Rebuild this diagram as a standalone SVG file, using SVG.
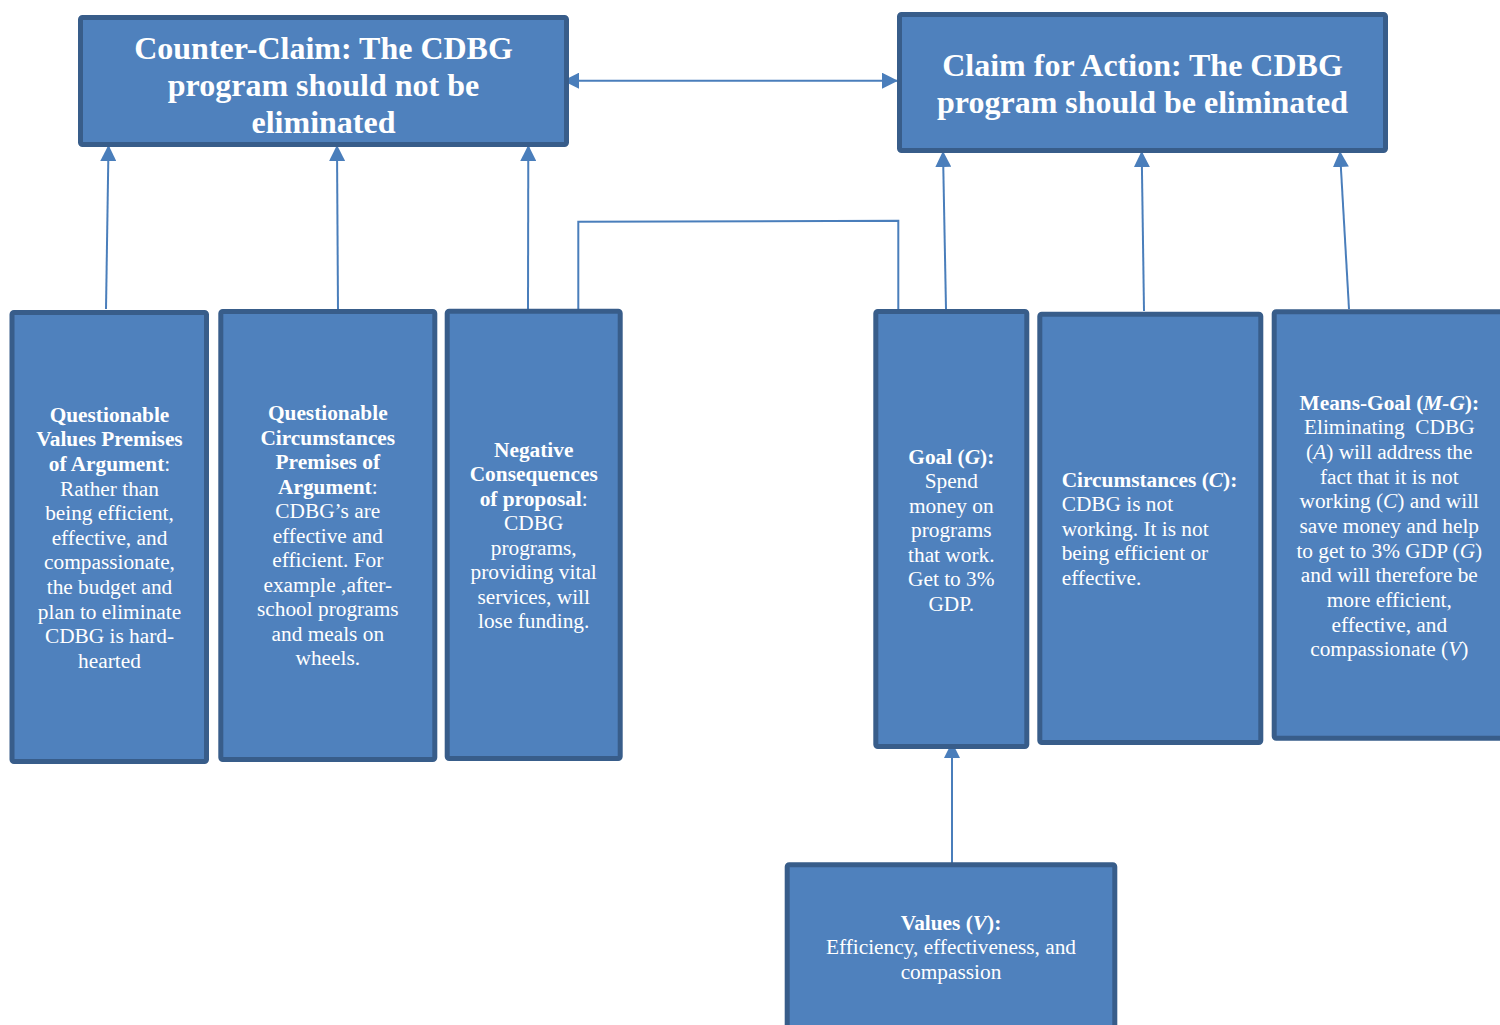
<svg xmlns="http://www.w3.org/2000/svg" width="1500" height="1025" viewBox="0 0 1500 1025">
  <defs>
    <style>
      .box { fill: #4F81BD; stroke: #385D8A; stroke-width: 5; }
      .conn { fill: none; stroke: #4A7EBB; stroke-width: 2; }
      .t { font-family: "Liberation Serif", "Times New Roman", serif; fill: #ffffff; font-size: 21.33px; }
      .title { font-size: 32px; font-weight: bold; }
      .b { font-weight: bold; }
      .i { font-style: italic; }
    </style>
    <marker id="arrow" viewBox="0 0 16 16" refX="15" refY="8" markerWidth="16" markerHeight="16" markerUnits="userSpaceOnUse" orient="auto-start-reverse">
      <path d="M0,0 L16,8 L0,16 z" fill="#4A7EBB"/>
    </marker>
  </defs>

  <rect width="1500" height="1025" fill="#ffffff"/>

  <!-- connectors -->
  <g id="connectors">
    <line class="conn" x1="106" y1="309" x2="108.5" y2="146" marker-end="url(#arrow)"/>
    <line class="conn" x1="338" y1="311" x2="337" y2="146" marker-end="url(#arrow)"/>
    <line class="conn" x1="528" y1="309" x2="528.3" y2="146" marker-end="url(#arrow)"/>
    <line class="conn" x1="946" y1="309" x2="943" y2="152" marker-end="url(#arrow)"/>
    <line class="conn" x1="1144" y1="311" x2="1141.7" y2="152" marker-end="url(#arrow)"/>
    <line class="conn" x1="1349" y1="309" x2="1340" y2="152" marker-end="url(#arrow)"/>
    <line class="conn" x1="564" y1="80.7" x2="897" y2="80.7" marker-start="url(#arrow)" marker-end="url(#arrow)"/>
    <polyline class="conn" points="578.3,309 578.3,221.8 898.3,220.8 898.3,309"/>
    <line class="conn" x1="952" y1="863" x2="952" y2="743" marker-end="url(#arrow)"/>
  </g>

  <!-- counter-claim -->
  <g id="counter-claim">
    <rect class="box" x="80.5" y="17.5" width="486" height="127" rx="2"/>
    <text class="t title" text-anchor="middle"><tspan
      x="323.5" y="58.5">Counter-Claim: The CDBG</tspan><tspan
      x="323.5" y="95.5">program should not be</tspan><tspan
      x="323.5" y="132.5">eliminated</tspan></text>
  </g>

  <!-- claim for action -->
  <g id="claim-for-action">
    <rect class="box" x="899.5" y="14.5" width="486" height="136" rx="2"/>
    <text class="t title" text-anchor="middle"><tspan
      x="1142.5" y="76">Claim for Action: The CDBG</tspan><tspan
      x="1142.5" y="113.3">program should be eliminated</tspan></text>
  </g>

  <!-- questionable values premises -->
  <g id="questionable-values">
    <rect class="box" x="12" y="312.5" width="194.5" height="449" rx="2"/>
    <text class="t" text-anchor="middle"><tspan
      x="109.5" y="421.7" class="b">Questionable</tspan><tspan
      x="109.5" y="446.3" class="b">Values Premises</tspan><tspan
      x="109.5" y="470.9"><tspan class="b">of Argument</tspan>:</tspan><tspan
      x="109.5" y="495.5">Rather than</tspan><tspan
      x="109.5" y="520.1">being efficient,</tspan><tspan
      x="109.5" y="544.7">effective, and</tspan><tspan
      x="109.5" y="569.3">compassionate,</tspan><tspan
      x="109.5" y="593.9">the budget and</tspan><tspan
      x="109.5" y="618.5">plan to eliminate</tspan><tspan
      x="109.5" y="643.1">CDBG is hard-</tspan><tspan
      x="109.5" y="667.7">hearted</tspan></text>
  </g>

  <!-- questionable circumstances premises -->
  <g id="questionable-circumstances">
    <rect class="box" x="220.8" y="311.5" width="214" height="448" rx="2"/>
    <text class="t" text-anchor="middle"><tspan
      x="327.8" y="420" class="b">Questionable</tspan><tspan
      x="327.8" y="444.5" class="b">Circumstances</tspan><tspan
      x="327.8" y="469" class="b">Premises of</tspan><tspan
      x="327.8" y="493.5"><tspan class="b">Argument</tspan>:</tspan><tspan
      x="327.8" y="518">CDBG’s are</tspan><tspan
      x="327.8" y="542.5">effective and</tspan><tspan
      x="327.8" y="567">efficient. For</tspan><tspan
      x="327.8" y="591.5">example ,after-</tspan><tspan
      x="327.8" y="616">school programs</tspan><tspan
      x="327.8" y="640.5">and meals on</tspan><tspan
      x="327.8" y="665">wheels.</tspan></text>
  </g>

  <!-- negative consequences -->
  <g id="negative-consequences">
    <rect class="box" x="447.2" y="311.2" width="173" height="447.3" rx="2"/>
    <text class="t" text-anchor="middle"><tspan
      x="533.7" y="456.5" class="b">Negative</tspan><tspan
      x="533.7" y="481" class="b">Consequences</tspan><tspan
      x="533.7" y="505.5"><tspan class="b">of proposal</tspan>:</tspan><tspan
      x="533.7" y="530">CDBG</tspan><tspan
      x="533.7" y="554.5">programs,</tspan><tspan
      x="533.7" y="579">providing vital</tspan><tspan
      x="533.7" y="603.5">services, will</tspan><tspan
      x="533.7" y="628">lose funding.</tspan></text>
  </g>

  <!-- goal -->
  <g id="goal">
    <rect class="box" x="875.8" y="311.5" width="151" height="435" rx="2"/>
    <text class="t" text-anchor="middle"><tspan
      x="951.3" y="463.5" class="b">Goal (<tspan class="i">G</tspan>):</tspan><tspan
      x="951.3" y="488">Spend</tspan><tspan
      x="951.3" y="512.5">money on</tspan><tspan
      x="951.3" y="537">programs</tspan><tspan
      x="951.3" y="561.5">that work.</tspan><tspan
      x="951.3" y="586">Get to 3%</tspan><tspan
      x="951.3" y="610.5">GDP.</tspan></text>
  </g>

  <!-- circumstances -->
  <g id="circumstances">
    <rect class="box" x="1039.8" y="314.2" width="221" height="428.3" rx="2"/>
    <text class="t"><tspan
      x="1061.7" y="486.7" class="b">Circumstances (<tspan class="i">C</tspan>):</tspan><tspan
      x="1061.7" y="511.2">CDBG is not</tspan><tspan
      x="1061.7" y="535.7">working. It is not</tspan><tspan
      x="1061.7" y="560.2">being efficient or</tspan><tspan
      x="1061.7" y="584.7">effective.</tspan></text>
  </g>

  <!-- means-goal -->
  <g id="means-goal">
    <rect class="box" x="1274.2" y="311.8" width="230" height="426.4" rx="2"/>
    <text class="t" text-anchor="middle"><tspan
      x="1389.3" y="409.5" class="b">Means-Goal (<tspan class="i">M-G</tspan>):</tspan><tspan
      x="1389.3" y="434.2">Eliminating&#160; CDBG</tspan><tspan
      x="1389.3" y="458.8">(<tspan class="i">A</tspan>) will address the</tspan><tspan
      x="1389.3" y="483.5">fact that it is not</tspan><tspan
      x="1389.3" y="508.2">working (<tspan class="i">C</tspan>) and will</tspan><tspan
      x="1389.3" y="532.8">save money and help</tspan><tspan
      x="1389.3" y="557.5">to get to 3% GDP (<tspan class="i">G</tspan>)</tspan><tspan
      x="1389.3" y="582.2">and will therefore be</tspan><tspan
      x="1389.3" y="606.8">more efficient,</tspan><tspan
      x="1389.3" y="631.5">effective, and</tspan><tspan
      x="1389.3" y="656.2">compassionate (<tspan class="i">V</tspan>)</tspan></text>
  </g>

  <!-- values -->
  <g id="values">
    <rect class="box" x="787.2" y="864.8" width="327.6" height="170" rx="2"/>
    <text class="t" text-anchor="middle"><tspan
      x="951" y="930" class="b">Values (<tspan class="i">V</tspan>):</tspan><tspan
      x="951" y="954.3">Efficiency, effectiveness, and</tspan><tspan
      x="951" y="978.6">compassion</tspan></text>
  </g>
</svg>
